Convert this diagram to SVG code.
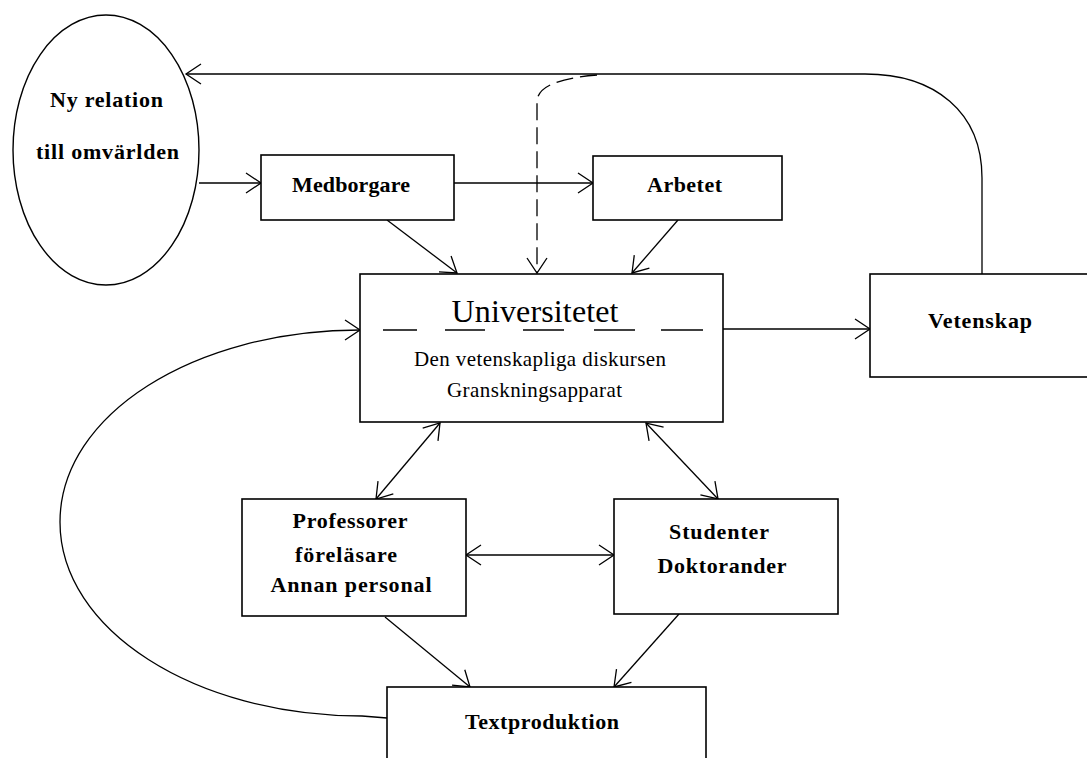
<svg xmlns="http://www.w3.org/2000/svg" width="1087" height="758" viewBox="0 0 1087 758">
<defs>
<marker id="arr" markerUnits="userSpaceOnUse" viewBox="-17 -12 19 24" markerWidth="19" markerHeight="24" refX="0" refY="0" orient="auto-start-reverse" overflow="visible">
<path d="M-15,-10 L0,0 L-15,10" fill="none" stroke="#000" stroke-width="1.3"/>
</marker>
<style>
.box{fill:#fff;stroke:#000;stroke-width:1.6}
.lbl{font-family:"Liberation Serif","Times New Roman",serif;font-weight:bold;font-size:22px;fill:#000;text-anchor:middle}
.reg{font-family:"Liberation Serif","Times New Roman",serif;font-size:21px;fill:#000;text-anchor:middle}
.ln{fill:none;stroke:#000;stroke-width:1.3}
</style>
</defs>
<rect width="1087" height="758" fill="#fff"/>
<g id="connectors">
<path class="ln" d="M982,274 L982,178 C982,112 935,74 865,74 L186,74" marker-end="url(#arr)"/>
<path class="ln" d="M597,75 C560,78 537,86 537,102 L537,273" stroke-dasharray="17 7" marker-end="url(#arr)"/>
<path class="ln" d="M199,183 L261,183" marker-end="url(#arr)"/>
<path class="ln" d="M454,183 L593,183" marker-end="url(#arr)"/>
<path class="ln" d="M387,220 L457,273" marker-end="url(#arr)"/>
<path class="ln" d="M678,220 L632,273" marker-end="url(#arr)"/>
<path class="ln" d="M723,329 L870,329" marker-end="url(#arr)"/>
<path class="ln" d="M440,423 L376,499" marker-start="url(#arr)" marker-end="url(#arr)"/>
<path class="ln" d="M646,423 L718,499" marker-start="url(#arr)" marker-end="url(#arr)"/>
<path class="ln" d="M466,555 L614,555" marker-start="url(#arr)" marker-end="url(#arr)"/>
<path class="ln" d="M385,617 L470,687" marker-end="url(#arr)"/>
<path class="ln" d="M679,614 L614,687" marker-end="url(#arr)"/>
<path class="ln" d="M387,718 L362,716 C195,716 60,630 60,522 C60,414 195,330 360,330" marker-end="url(#arr)"/>
</g>
<g id="node-ny-relation">
<ellipse cx="106" cy="150" rx="93" ry="135" fill="#fff" stroke="#000" stroke-width="1.4"/>
<text class="lbl" x="106.5" y="107" textLength="113" lengthAdjust="spacing">Ny relation</text>
<text class="lbl" x="107.5" y="159" textLength="143" lengthAdjust="spacing">till omvärlden</text>
</g>
<g id="node-medborgare">
<rect class="box" x="261" y="155" width="193" height="65"/>
<text class="lbl" x="351" y="192" textLength="118" lengthAdjust="spacing">Medborgare</text>
</g>
<g id="node-arbetet">
<rect class="box" x="593" y="156" width="189" height="64"/>
<text class="lbl" x="684.5" y="192" textLength="75" lengthAdjust="spacing">Arbetet</text>
</g>
<g id="node-universitetet">
<rect class="box" x="360" y="274" width="363" height="148"/>
<text class="reg" x="535" y="322" style="font-size:32px" textLength="167" lengthAdjust="spacing">Universitetet</text>
<g stroke="#000" stroke-width="1.5">
<line x1="383" y1="330" x2="417" y2="330"/>
<line x1="445" y1="330" x2="485" y2="330"/>
<line x1="523" y1="330" x2="564" y2="330"/>
<line x1="594" y1="330" x2="635" y2="330"/>
<line x1="661" y1="330" x2="703" y2="330"/>
</g>
<text class="reg" x="540" y="366" textLength="252" lengthAdjust="spacing">Den vetenskapliga diskursen</text>
<text class="reg" x="534.5" y="397" textLength="175" lengthAdjust="spacing">Granskningsapparat</text>
</g>
<g id="node-vetenskap">
<rect class="box" x="870" y="274" width="230" height="103"/>
<text class="lbl" x="980" y="328" textLength="104" lengthAdjust="spacing">Vetenskap</text>
</g>
<g id="node-professorer">
<rect class="box" x="242" y="499" width="224" height="117"/>
<text class="lbl" x="350" y="528" textLength="115" lengthAdjust="spacing">Professorer</text>
<text class="lbl" x="346" y="562" textLength="102" lengthAdjust="spacing">föreläsare</text>
<text class="lbl" x="351" y="592" textLength="161" lengthAdjust="spacing">Annan personal</text>
</g>
<g id="node-studenter">
<rect class="box" x="614" y="499" width="224" height="115"/>
<text class="lbl" x="719" y="539" textLength="100" lengthAdjust="spacing">Studenter</text>
<text class="lbl" x="722" y="573" textLength="129" lengthAdjust="spacing">Doktorander</text>
</g>
<g id="node-textproduktion">
<rect class="box" x="387" y="687" width="319" height="90"/>
<text class="lbl" x="542" y="729" textLength="154" lengthAdjust="spacing">Textproduktion</text>
</g>
</svg>
